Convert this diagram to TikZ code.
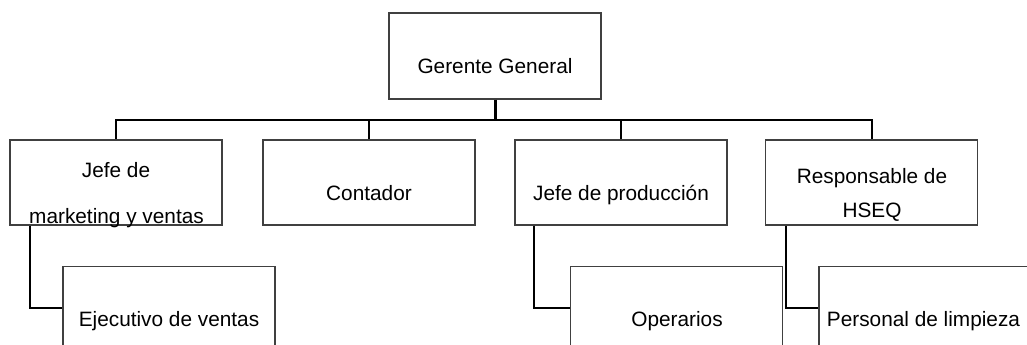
\documentclass[tikz,border=0pt]{standalone}
\usepackage{fontspec}
\setmainfont{Liberation Sans}
\usepackage{tikz}
\usetikzlibrary{positioning}

\begin{document}
\begin{tikzpicture}[x=1pt,y=-1pt,
    box/.style={rectangle, draw=black!75, line width=1.1pt, fill=white,
                minimum width=212pt, minimum height=85pt, inner sep=0pt},
    txt/.style={anchor=base, inner sep=0pt, font=\fontsize{20.8}{25}\selectfont},
    conn/.style={draw=black, line width=2pt}]

  \clip (0,0) rectangle (1027,345);
  \fill[white] (0,0) rectangle (1027,345);

  %Boxes%
  \node[box, minimum height=86pt] (gg) at (495,56) {};
  \node[box] (mkt)  at (116,182.5) {};
  \node[box] (cont) at (369,182.5) {};
  \node[box] (prod) at (621,182.5) {};
  \node[box] (hseq) at (871.5,182.5) {};
  \node[box, anchor=north, minimum height=100pt] (ejec) at (169,266) {};
  \node[box, anchor=north, minimum height=100pt] (oper) at (676.5,266) {};
  \node[box, anchor=north, minimum height=100pt] (limp) at (925,266) {};

  %Texts%
  \node[txt] (ggT)    at (495,74)   {Gerente General};
  \node[txt] (mktT)   at (116,177)  {Jefe de};
  \node[txt] (mktT2)  at (116.5,223) {marketing y ventas};
  \node[txt] (contT)  at (369,200)  {Contador};
  \node[txt] (prodT)  at (621,200)  {Jefe de producción};
  \node[txt] (hseqT)  at (872,183)  {Responsable de};
  \node[txt] (hseqT2) at (872,217)  {HSEQ};
  \node[txt] (ejecT)  at (169,326)  {Ejecutivo de ventas};
  \node[txt] (operT)  at (677,326)  {Operarios};
  \node[txt] (limpT)  at (923.5,326) {Personal de limpieza};

  %Connectors%
  \draw[conn, line width=3pt] (gg.south) -- ++(0,20) coordinate (bus);
  \draw[conn] (bus) -| (mkt.north);
  \draw[conn] (bus) -| (hseq.north);
  \draw[conn] (bus) -| (cont.north);
  \draw[conn] (bus) -| (prod.north);

  \draw[conn] ([xshift=21pt]mkt.south west)  |- ([yshift=-42pt]ejec.north west);
  \draw[conn] ([xshift=20pt]prod.south west) |- ([yshift=-42pt]oper.north west);
  \draw[conn] ([xshift=21pt]hseq.south west) |- ([yshift=-42pt]limp.north west);
\end{tikzpicture}
\end{document}
